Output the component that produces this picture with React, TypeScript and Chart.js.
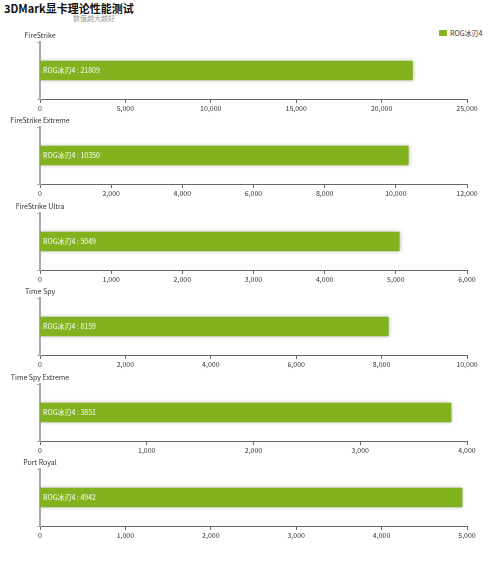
import React, { useEffect, useRef } from "react";
import { Chart, registerables } from "chart.js";

Chart.register(...registerables);

const mainTitle = "3DMark显卡理论性能测试";
const subTitle = "数值越大越好";
const seriesName = "ROG冰刃4";
const categories = ["FireStrike", "FireStrike Extreme", "FireStrike Ultra", "Time Spy", "Time Spy Extreme", "Port Royal"];
const values = [21809, 10350, 5049, 8159, 3851, 4942];
const axisMax = [25000, 12000, 6000, 10000, 4000, 5000];
const axisStep = [5000, 2000, 1000, 2000, 1000, 1000];

const GREEN = "#82b21e";
const FONT = "'Noto Sans CJK SC', 'Noto Sans', sans-serif";
const SMALL = 7;

const decorPlugin = {
  id: "decor",
  beforeDatasetsDraw(chart: any) {
    const ctx = chart.ctx;
    ctx.save();
    ctx.shadowColor = "rgba(0,0,0,0.3)";
    ctx.shadowBlur = 4;
  },
  afterDatasetsDraw(chart: any) {
    const ctx = chart.ctx;
    ctx.restore();
    const name = chart.options.plugins.decor.name;
    const ca = chart.chartArea;
    ctx.save();
    ctx.font = `${SMALL}px ${FONT}`;
    ctx.fillStyle = "#333";
    ctx.textAlign = "center";
    ctx.textBaseline = "middle";
    ctx.fillText(name, ca.left, ca.top - 7);
    const meta = chart.getDatasetMeta(0);
    meta.data.forEach((el: any, i: number) => {
      const v = chart.data.datasets[0].data[i];
      ctx.fillStyle = "#fff";
      ctx.textAlign = "left";
      ctx.fillText(`${chart.data.datasets[0].label} : ${v}`, ca.left + 3, el.y);
    });
    ctx.restore();
  },
};

function SubChart({ idx }: { idx: number }) {
  const ref = useRef<HTMLCanvasElement>(null);
  useEffect(() => {
    const chart = new Chart(ref.current!, {
      type: "bar",
      data: {
        labels: [categories[idx]],
        datasets: [
          {
            label: seriesName,
            data: [values[idx]],
            backgroundColor: GREEN,
            borderWidth: 0,
            barThickness: 19,
          },
        ],
      },
      options: {
        indexAxis: "y",
        animation: false,
        responsive: false,
        devicePixelRatio: 1,
        layout: { padding: { left: 40, right: 33, top: 10, bottom: 0 } },
        plugins: {
          legend: { display: false },
          tooltip: { enabled: false },
          decor: { name: categories[idx] },
        } as any,
        scales: {
          x: {
            min: 0,
            max: axisMax[idx],
            ticks: {
              stepSize: axisStep[idx],
              font: { size: SMALL, family: FONT },
              color: "#333",
              padding: 1,
              maxRotation: 0,
              callback: (v: any) => Number(v).toLocaleString("en-US"),
            },
            grid: {
              display: true,
              drawOnChartArea: false,
              drawTicks: true,
              tickLength: 4,
              color: "#666",
            },
            border: { display: true, color: "#666", width: 1 },
            afterFit: (s: any) => {
              s.height = 19;
            },
          },
          y: {
            ticks: { display: false },
            grid: {
              display: true,
              drawOnChartArea: false,
              drawTicks: true,
              tickLength: 3,
              color: "#aaa",
              offset: true,
            },
            border: { display: true, color: "#aaa", width: 2 },
            afterFit: (s: any) => {
              s.width = 0;
            },
          },
        },
      },
      plugins: [decorPlugin as any],
    });
    return () => chart.destroy();
  }, [idx]);
  const top = Math.round(32 + 85.4 * idx);
  return (
    <canvas
      ref={ref}
      width={500}
      height={86}
      style={{ position: "absolute", left: 0, top, width: 500, height: 86 }}
    />
  );
}

export default function App() {
  return (
    <div
      style={{
        position: "fixed",
        left: 0,
        top: 0,
        width: 500,
        height: 561,
        background: "#fff",
        fontFamily: FONT,
      }}
    >
      <div
        style={{
          position: "absolute",
          left: 4,
          top: 0,
          fontSize: 11,
          fontWeight: "bold",
          color: "#111",
          lineHeight: "16px",
        }}
      >
        {mainTitle}
      </div>
      <div
        style={{
          position: "absolute",
          left: 73,
          top: 13,
          fontSize: 7,
          color: "#999",
          lineHeight: "10px",
        }}
      >
        {subTitle}
      </div>
      <div
        style={{
          position: "absolute",
          left: 439,
          top: 28,
          fontSize: SMALL,
          color: "#333",
          lineHeight: "10px",
          display: "flex",
          alignItems: "center",
        }}
      >
        <span style={{ display: "inline-block", width: 8, height: 6, background: GREEN, borderRadius: 1, marginRight: 3 }} />
        {seriesName}
      </div>
      {categories.map((_, i) => (
        <SubChart key={i} idx={i} />
      ))}
    </div>
  );
}
